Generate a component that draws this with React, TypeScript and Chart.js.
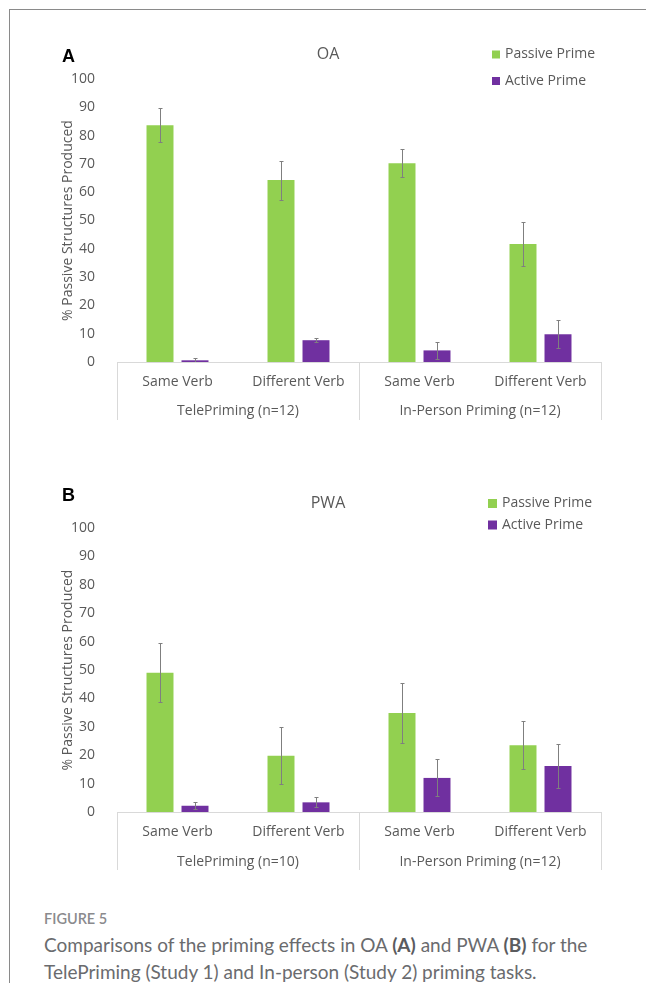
import React, { useEffect, useRef } from "react";
import { Chart, registerables } from "chart.js";

Chart.register(...registerables);

// ---------- data ----------
const categories = ["Same Verb", "Different Verb", "Same Verb", "Different Verb"];
const seriesNames = ["Passive Prime", "Active Prime"];
const yTickMin = 0;
const yTickMax = 100;
const yTickStep = 10;

const oaGroups = ["TelePriming (n=12)", "In-Person Priming (n=12)"];
const oaPassive = [83.7, 64.3, 70.2, 41.7];
const oaPassiveErr = [6.1, 6.9, 5.0, 7.8];
const oaActive = [0.6, 7.7, 4.1, 9.8];
const oaActiveErr = [0.9, 0.8, 3.0, 5.0];

const pwaGroups = ["TelePriming (n=10)", "In-Person Priming (n=12)"];
const pwaPassive = [49.0, 19.8, 34.9, 23.5];
const pwaPassiveErr = [10.4, 10.0, 10.6, 8.4];
const pwaActive = [2.2, 3.4, 12.0, 16.2];
const pwaActiveErr = [1.3, 1.8, 6.5, 7.7];

const yTitle = "% Passive Structures Produced";

// ---------- styles ----------
const GREEN = "#92D050";
const PURPLE = "#7030A0";
const TEXT = "#595959";
const AXIS = "#d9d9d9";
const ERR = "#7f7f7f";
const FONT = '"Open Sans"';

const panelPlugin = {
  id: "panelDeco",
  afterDatasetsDraw(chart: any) {
    const { ctx, chartArea } = chart;
    const ys = chart.scales.y;
    ctx.save();
    ctx.beginPath();
    ctx.rect(chartArea.left, chartArea.top - 30, chartArea.right - chartArea.left, chartArea.bottom - chartArea.top + 30);
    ctx.clip();
    ctx.strokeStyle = ERR;
    ctx.lineWidth = 1;
    chart.data.datasets.forEach((ds: any, i: number) => {
      const meta = chart.getDatasetMeta(i);
      meta.data.forEach((el: any, j: number) => {
        const v = ds.data[j];
        const e = ds.errors[j];
        const x = Math.round(el.x) + 0.5;
        const y1 = Math.round(ys.getPixelForValue(v + e)) + 0.5;
        const y2 = Math.round(ys.getPixelForValue(v - e)) + 0.5;
        ctx.beginPath();
        ctx.moveTo(x, y1);
        ctx.lineTo(x, y2);
        ctx.moveTo(x - 2, y1);
        ctx.lineTo(x + 2, y1);
        ctx.moveTo(x - 2, y2);
        ctx.lineTo(x + 2, y2);
        ctx.stroke();
      });
    });
    ctx.restore();
  },
  afterDraw(chart: any, _args: any, opts: any) {
    const { ctx, chartArea } = chart;
    const xs = chart.scales.x;
    const { left, right, bottom, top } = chartArea;
    ctx.save();
    ctx.strokeStyle = AXIS;
    ctx.lineWidth = 1;
    const n = chart.data.labels.length;
    const mid = (xs.getPixelForValue(1) + xs.getPixelForValue(2)) / 2;
    ctx.beginPath();
    ctx.moveTo(left, Math.round(bottom) + 0.5);
    ctx.lineTo(right, Math.round(bottom) + 0.5);
    [left, mid, right].forEach((x) => {
      const px = Math.round(x) + 0.5;
      ctx.moveTo(px, bottom);
      ctx.lineTo(px, bottom + opts.boxDepth);
    });
    ctx.stroke();

    ctx.fillStyle = TEXT;
    ctx.font = `14px ${FONT}`;
    ctx.textAlign = "center";
    ctx.textBaseline = "middle";
    for (let i = 0; i < n; i++) {
      ctx.fillText(chart.data.labels[i], xs.getPixelForValue(i), bottom + opts.catOffset);
    }
    const g0 = (xs.getPixelForValue(0) + xs.getPixelForValue(1)) / 2;
    const g1 = (xs.getPixelForValue(2) + xs.getPixelForValue(3)) / 2;
    ctx.fillText(opts.groups[0], g0, bottom + opts.groupOffset);
    ctx.fillText(opts.groups[1], g1, bottom + opts.groupOffset);

    ctx.save();
    ctx.translate(68, (top + bottom) / 2);
    ctx.rotate(-Math.PI / 2);
    ctx.fillText(opts.yTitle, 0, 0);
    ctx.restore();

    ctx.font = `16px ${FONT}`;
    ctx.fillText(opts.title, 328, opts.titleY);

    ctx.fillStyle = "#000";
    ctx.font = `bold 18px "Liberation Sans"`;
    ctx.textAlign = "left";
    ctx.fillText(opts.letter, 62, opts.letterY);

    ctx.font = `14px ${FONT}`;
    chart.data.datasets.forEach((ds: any, i: number) => {
      const cy = opts.legendY[i];
      ctx.fillStyle = ds.backgroundColor;
      ctx.fillRect(opts.legendX, cy - opts.legendBox / 2, opts.legendBox, opts.legendBox);
      ctx.fillStyle = TEXT;
      ctx.fillText(ds.label, opts.legendTextX, cy);
    });
    ctx.restore();
  },
};

type PanelProps = {
  top: number;
  passive: number[];
  passiveErr: number[];
  active: number[];
  activeErr: number[];
  deco: any;
  padTop: number;
};

function Panel({ top, passive, passiveErr, active, activeErr, deco, padTop }: PanelProps) {
  const ref = useRef<HTMLCanvasElement>(null);
  useEffect(() => {
    let chart: Chart | null = null;
    let cancelled = false;
    const make = () => {
      if (cancelled || !ref.current) return;
      chart = new Chart(ref.current as HTMLCanvasElement, {
        type: "bar",
        data: {
          labels: categories,
          datasets: [
            {
              label: seriesNames[0],
              data: passive,
              errors: passiveErr,
              backgroundColor: GREEN,
              categoryPercentage: 0.5785,
              barPercentage: 0.771,
            } as any,
            {
              label: seriesNames[1],
              data: active,
              errors: activeErr,
              backgroundColor: PURPLE,
              categoryPercentage: 0.5785,
              barPercentage: 0.771,
            } as any,
          ],
        },
        options: {
          responsive: false,
          animation: false,
          events: [],
          layout: { padding: { top: padTop, left: 0, right: 45, bottom: 0 } },
          plugins: {
            legend: { display: false },
            title: { display: false },
            tooltip: { enabled: false },
            panelDeco: deco,
          } as any,
          scales: {
            x: {
              grid: { display: false },
              border: { display: false },
              ticks: { display: false },
              afterFit: (s: any) => {
                s.height = 78;
              },
            },
            y: {
              min: yTickMin,
              max: yTickMax,
              grid: { display: false },
              border: { display: false },
              ticks: {
                stepSize: yTickStep,
                padding: 14,
                color: TEXT,
                font: { family: "Open Sans", size: 14 },
              },
              afterFit: (s: any) => {
                s.width = 117;
              },
            },
          },
        },
        plugins: [panelPlugin],
      });
    };
    const fonts: any = (document as any).fonts;
    if (fonts && fonts.load) {
      Promise.all([
        fonts.load('14px "Open Sans"'),
        fonts.load('16px "Open Sans"'),
        fonts.load('bold 18px "Liberation Sans"'),
      ])
        .catch(() => null)
        .then(make);
    } else {
      make();
    }
    return () => {
      cancelled = true;
      if (chart) chart.destroy();
    };
  }, []);
  return (
    <canvas
      ref={ref}
      width={646}
      height={420}
      style={{ position: "absolute", left: 0, top, width: 646, height: 420 }}
    />
  );
}

export default function App() {
  return (
    <div
      style={{
        position: "absolute",
        left: 0,
        top: 0,
        width: 646,
        height: 983,
        overflow: "hidden",
        background: "#fff",
      }}
    >
      <div style={{ position: "absolute", left: 9, top: 9, width: 637, height: 974, borderTop: "1px solid #8a8a8a", borderLeft: "1px solid #8a8a8a" }} />
      <Panel
        top={20}
        padTop={59}
        passive={oaPassive}
        passiveErr={oaPassiveErr}
        active={oaActive}
        activeErr={oaActiveErr}
        deco={{
          groups: oaGroups,
          yTitle,
          title: "OA",
          titleY: 34,
          letter: "A",
          letterY: 37,
          legendX: 492,
          legendTextX: 505,
          legendBox: 8,
          legendY: [34.5, 61],
          catOffset: 20,
          groupOffset: 49,
          boxDepth: 58,
        }}
      />
      <Panel
        top={470}
        padTop={58}
        passive={pwaPassive}
        passiveErr={pwaPassiveErr}
        active={pwaActive}
        activeErr={pwaActiveErr}
        deco={{
          groups: pwaGroups,
          yTitle,
          title: "PWA",
          titleY: 33,
          letter: "B",
          letterY: 26,
          legendX: 488,
          legendTextX: 502,
          legendBox: 9,
          legendY: [33.5, 55],
          catOffset: 20,
          groupOffset: 50,
          boxDepth: 58,
        }}
      />
      <div
        style={{
          position: "absolute",
          left: 44,
          top: 909,
          fontFamily: "Lato",
          fontWeight: 600,
          fontSize: 14.5,
          color: "#8a8a8d",
          lineHeight: "20px",
        }}
      >
        FIGURE 5
      </div>
      <div
        style={{
          position: "absolute",
          left: 44,
          top: 931,
          width: 600,
          fontFamily: "Lato",
          fontSize: 19,
          color: "#6a6b6e",
          lineHeight: "27px",
          whiteSpace: "nowrap",
        }}
      >
        Comparisons of the priming effects in OA <b style={{ color: "#5a5b5e" }}>(A)</b> and PWA{" "}
        <b style={{ color: "#5a5b5e" }}>(B)</b> for the
        <br />
        TelePriming (Study 1) and In-person (Study 2) priming tasks.
      </div>
    </div>
  );
}
